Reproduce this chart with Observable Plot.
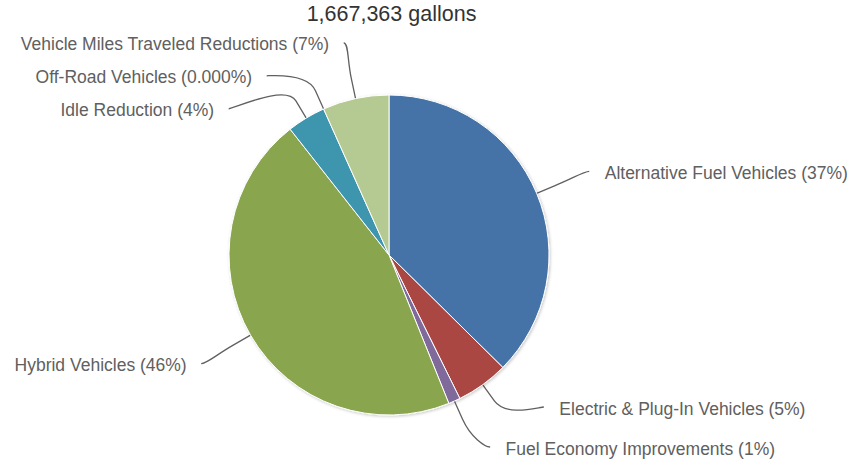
<!DOCTYPE html>
<html><head><meta charset="utf-8">
<script src="https://cdn.jsdelivr.net/npm/d3@7"></script>
<script src="https://cdn.jsdelivr.net/npm/@observablehq/plot@0.6"></script>
<style>html,body{margin:0;padding:0;background:#fff;overflow:hidden;}</style>
</head><body><div id="chart"></div>
<script>
// ---- data ----
const categories = ["Alternative Fuel Vehicles", "Electric & Plug-In Vehicles", "Fuel Economy Improvements", "Hybrid Vehicles", "Idle Reduction", "Off-Road Vehicles", "Vehicle Miles Traveled Reductions"];
const shares = [37.4, 5.3, 1.2, 45.5, 3.9, 0.0004, 6.7];
const percentLabels = ["37%", "5%", "1%", "46%", "4%", "0.000%", "7%"];
const colors = ["#4572A7", "#AA4643", "#80699B", "#89A54E", "#3D96AE", "#DB843D", "#B5CA92"];
const title = "1,667,363 gallons";

// ---- layout ----
const W = 853, H = 464, CX = 389, CY = 255, R = 160;
const labR = 217, gapLeft = 33, gapRight = 40, topLim = 42, botLim = 447, offset = 20;
const font = "'Liberation Sans', Arial, Helvetica, sans-serif";

const data = categories.map((c, i) => ({name: c, value: shares[i], color: colors[i], label: `${c} (${percentLabels[i]})`}));
const arcs = d3.pie().sort(null).value(d => d.value)(data);
arcs.forEach(a => {
  a.mid = (a.startAngle + a.endAngle) / 2;
  a.left = a.mid > Math.PI;
  a.ny = CY - labR * Math.cos(a.mid);
});
const leftArcs = arcs.filter(a => a.left).sort((a, b) => a.ny - b.ny);
let prev = -Infinity;
leftArcs.forEach(a => { a.ly = Math.max(a.ny, prev + gapLeft, topLim); prev = a.ly; });
const rightArcs = arcs.filter(a => !a.left).sort((a, b) => b.ny - a.ny);
prev = Infinity;
rightArcs.forEach(a => { a.ly = Math.min(a.ny, prev - gapRight, botLim); prev = a.ly; });
arcs.forEach(a => {
  const dy = a.ly - CY;
  const dx = Math.sqrt(Math.max(0, labR * labR - dy * dy));
  a.lx = a.left ? CX - dx : CX + dx;
});
const labelRows = arcs.map(a => ({x: a.lx, y: a.ly, text: a.data.label, left: a.left}));

function pieMark(index, scales, values, dimensions) {
  const sx = scales.x, sy = scales.y;
  const cx = sx(CX), cy = sy(CY), r = sx(CX + R) - sx(CX);
  const g = d3.create("svg:g");
  g.append("defs").html(`<filter id="pieShadow" x="-10%" y="-10%" width="120%" height="120%"><feDropShadow dx="1" dy="1" stdDeviation="1.6" flood-color="#000" flood-opacity="0.22"/></filter>`);
  // connectors
  const cg = g.append("g").attr("fill", "none").attr("stroke", "#606060").attr("stroke-width", 1.3);
  arcs.forEach(a => {
    const s = Math.sin(a.mid), c = -Math.cos(a.mid);
    const tx = CX + R * s, ty = CY + R * c;
    const bx = tx + offset * s, by = ty + offset * c;
    const c1x = tx + 2 * offset * s, c1y = ty + 2 * offset * c;
    const c2x = a.lx + (a.left ? 5 : -5);
    const p = d3.path();
    p.moveTo(sx(tx), sy(ty));
    p.lineTo(sx(bx), sy(by));
    p.bezierCurveTo(sx(c1x), sy(c1y), sx(c2x), sy(a.ly), sx(a.lx), sy(a.ly));
    cg.append("path").attr("d", p.toString());
  });
  const arcGen = d3.arc().innerRadius(0).outerRadius(r);
  const pg = g.append("g").attr("transform", `translate(${cx},${cy})`).attr("filter", "url(#pieShadow)");
  pg.selectAll("path").data(arcs.filter(a => a.endAngle - a.startAngle > 1e-4)).join("path")
    .attr("d", arcGen).attr("fill", d => d.data.color)
    .attr("stroke", "#fff").attr("stroke-width", 1).attr("stroke-linejoin", "round");
  return g.node();
}

const chart = Plot.plot({
  width: W, height: H, margin: 0,
  x: {domain: [0, W], range: [0, W], axis: null},
  y: {domain: [0, H], range: [0, H], axis: null},
  style: {fontFamily: font, background: "#fff"},
  marks: [
    pieMark,
    Plot.text(labelRows.filter(d => d.left), {x: "x", y: "y", text: "text", textAnchor: "end", dx: -15, dy: 1.5, fill: "#606060", fontSize: 17.5, fontFamily: font}),
    Plot.text(labelRows.filter(d => !d.left), {x: "x", y: "y", text: "text", textAnchor: "start", dx: 15, dy: 1.5, fill: "#606060", fontSize: 17.5, fontFamily: font}),
    Plot.text([title], {x: () => 391, y: () => 14, text: d => d, fill: "#333333", fontSize: 21.5, fontFamily: font})
  ]
});
document.getElementById("chart").append(chart);
</script>
</body></html>
